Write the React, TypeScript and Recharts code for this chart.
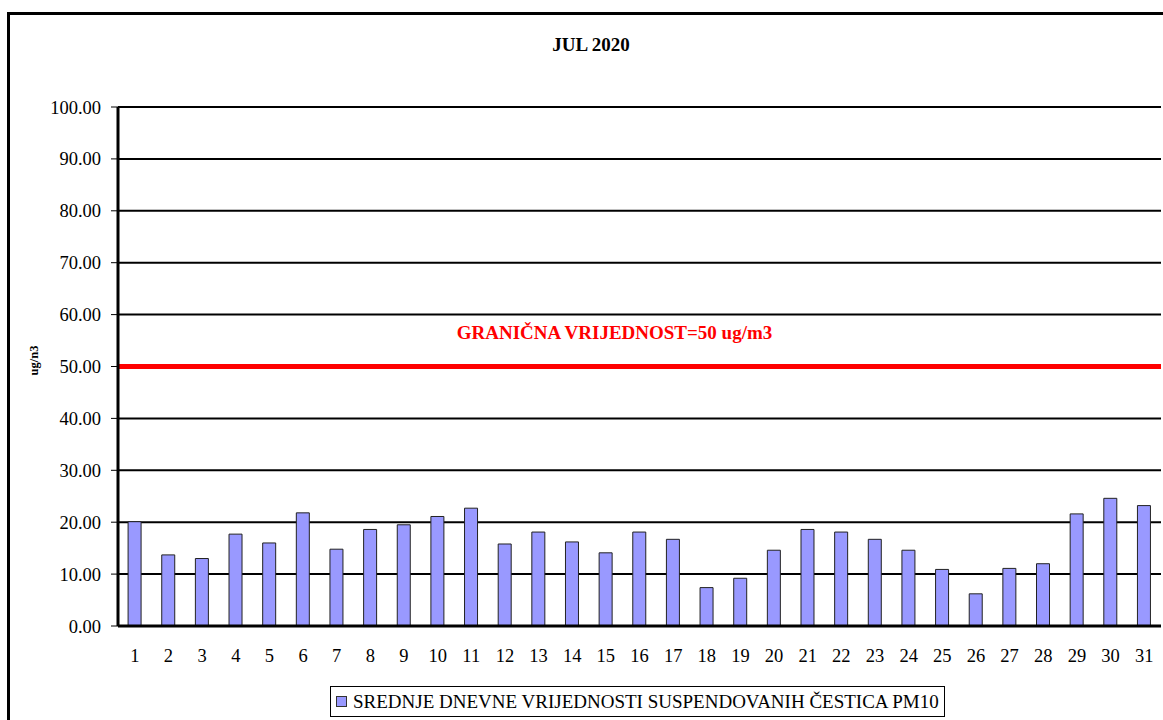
import React from 'react';
import {
  BarChart,
  Bar,
  XAxis,
  YAxis,
  CartesianGrid,
  ReferenceLine,
  Legend,
  Customized,
  Label,
} from 'recharts';

const days = ['1', '2', '3', '4', '5', '6', '7', '8', '9', '10', '11', '12', '13', '14', '15', '16', '17', '18', '19', '20', '21', '22', '23', '24', '25', '26', '27', '28', '29', '30', '31'];
const pm10 = [20.1, 13.7, 13.0, 17.7, 16.0, 21.8, 14.8, 18.6, 19.5, 21.1, 22.7, 15.8, 18.1, 16.2, 14.1, 18.1, 16.7, 7.4, 9.2, 14.6, 18.6, 18.1, 16.7, 14.6, 10.9, 6.2, 11.1, 12.0, 21.6, 24.6, 23.2];
const yTicks = [0, 10, 20, 30, 40, 50, 60, 70, 80, 90, 100];
const boundaryTicks = [0, 1, 2, 3, 4, 5, 6, 7, 8, 9, 10, 11, 12, 13, 14, 15, 16, 17, 18, 19, 20, 21, 22, 23, 24, 25, 26, 27, 28, 29, 30, 31];
const limitValue = 50;
const titleText = 'JUL 2020';
const yLabelText = 'ug/n3';
const limitLabelText = 'GRANIČNA VRIJEDNOST=50 ug/m3';
const seriesName = 'SREDNJE DNEVNE VRIJEDNOSTI SUSPENDOVANIH ČESTICA PM10';

const data = days.map((d, i) => ({ day: d, pm10: pm10[i] }));

const FONT = "'Liberation Serif', 'Times New Roman', Times, serif";

const Title = (props: any) => {
  const { offset } = props;
  const cx = offset ? offset.left + offset.width / 2 - 48 : 591;
  return (
    <text x={cx} y={51} textAnchor="middle" fontFamily={FONT} fontSize={19} fontWeight="bold" fill="#000">
      {titleText}
    </text>
  );
};

const YLabel = (props: any) => {
  const vb = props.viewBox || { x: 0, y: 0, width: 0, height: 0 };
  const x = vb.x + 38;
  const y = vb.y + vb.height / 2 - 6;
  return (
    <text
      x={x}
      y={y}
      transform={`rotate(-90 ${x} ${y})`}
      textAnchor="middle"
      fontFamily={FONT}
      fontSize={12.5}
      fontWeight="bold"
      fill="#000"
    >
      {yLabelText}
    </text>
  );
};

const LimitLabel = (props: any) => {
  const vb = props.viewBox || { x: 0, y: 0, width: 0 };
  return (
    <text
      x={vb.x + vb.width / 2 - 25}
      y={vb.y - 28}
      textAnchor="middle"
      fontFamily={FONT}
      fontSize={19}
      fontWeight="bold"
      fill="#FF0000"
    >
      {limitLabelText}
    </text>
  );
};

const LegendBox = (props: any) => {
  const item = props.payload && props.payload[0];
  return (
    <div
      style={{
        width: 615,
        height: 31,
        boxSizing: 'border-box',
        border: '1px solid #000',
        background: '#fff',
        display: 'flex',
        alignItems: 'center',
        paddingLeft: 5,
        fontFamily: FONT,
        fontSize: 19,
        color: '#000',
        whiteSpace: 'nowrap',
      }}
    >
      <span
        style={{
          display: 'inline-block',
          width: 11,
          height: 11,
          background: '#9999FF',
          border: '1px solid #333',
          boxSizing: 'border-box',
          marginRight: 6,
        }}
      />
      {item ? item.value : seriesName}
    </div>
  );
};

export default function App() {
  return (
    <div style={{ position: 'fixed', left: 0, top: 0, width: 1163, height: 720, overflow: 'hidden', background: '#fff' }}>
      <div
        style={{
          position: 'absolute',
          left: 7,
          top: 12,
          width: 1300,
          height: 900,
          border: '3px solid #000',
          boxSizing: 'border-box',
        }}
      />
      <div style={{ position: 'absolute', left: 0, top: 0 }}>
        <BarChart
          width={1163}
          height={720}
          data={data}
          margin={{ top: 107, right: 2, left: 0, bottom: 3 }}
          barCategoryGap="30%"
        >
          <CartesianGrid xAxisId="cat" vertical={false} stroke="#000" strokeWidth={2} />
          <XAxis
            xAxisId="grid"
            type="number"
            domain={[0, 31]}
            ticks={boundaryTicks}
            interval={0}
            height={0}
            axisLine={false}
            tickSize={7}
            tickLine={{ stroke: '#000', strokeWidth: 1 }}
            tickFormatter={() => ''}
            allowDataOverflow
          />
          <XAxis
            xAxisId="cat"
            dataKey="day"
            height={60}
            interval={0}
            tickLine={false}
            tickSize={7}
            tickMargin={16}
            axisLine={{ stroke: '#000', strokeWidth: 3 }}
            tick={{ fill: '#000', fontSize: 18.5, fontFamily: FONT }}
          />
          <YAxis
            domain={[0, 100]}
            ticks={yTicks}
            interval={0}
            width={118}
            tickFormatter={(v: number) => v.toFixed(2)}
            tickSize={7}
            tickMargin={10}
            axisLine={{ stroke: '#000', strokeWidth: 3 }}
            tickLine={{ stroke: '#000', strokeWidth: 1 }}
            tick={{ fill: '#000', fontSize: 18.5, fontFamily: FONT }}
          >
            <Label content={YLabel} />
          </YAxis>
          <Bar
            xAxisId="cat"
            dataKey="pm10"
            name={seriesName}
            fill="#9999FF"
            stroke="#222"
            strokeWidth={1}
            isAnimationActive={false}
          />
          <ReferenceLine xAxisId="cat" y={limitValue} stroke="#FF0000" strokeWidth={5} label={<LimitLabel />} />
          <ReferenceLine xAxisId="grid" x={31} stroke="#000" strokeWidth={3} />
          <Legend
            verticalAlign="bottom"
            align="left"
            width={615}
            height={31}
            content={LegendBox}
            wrapperStyle={{ left: 330 }}
          />
          <Customized component={Title} />
        </BarChart>
      </div>
    </div>
  );
}
